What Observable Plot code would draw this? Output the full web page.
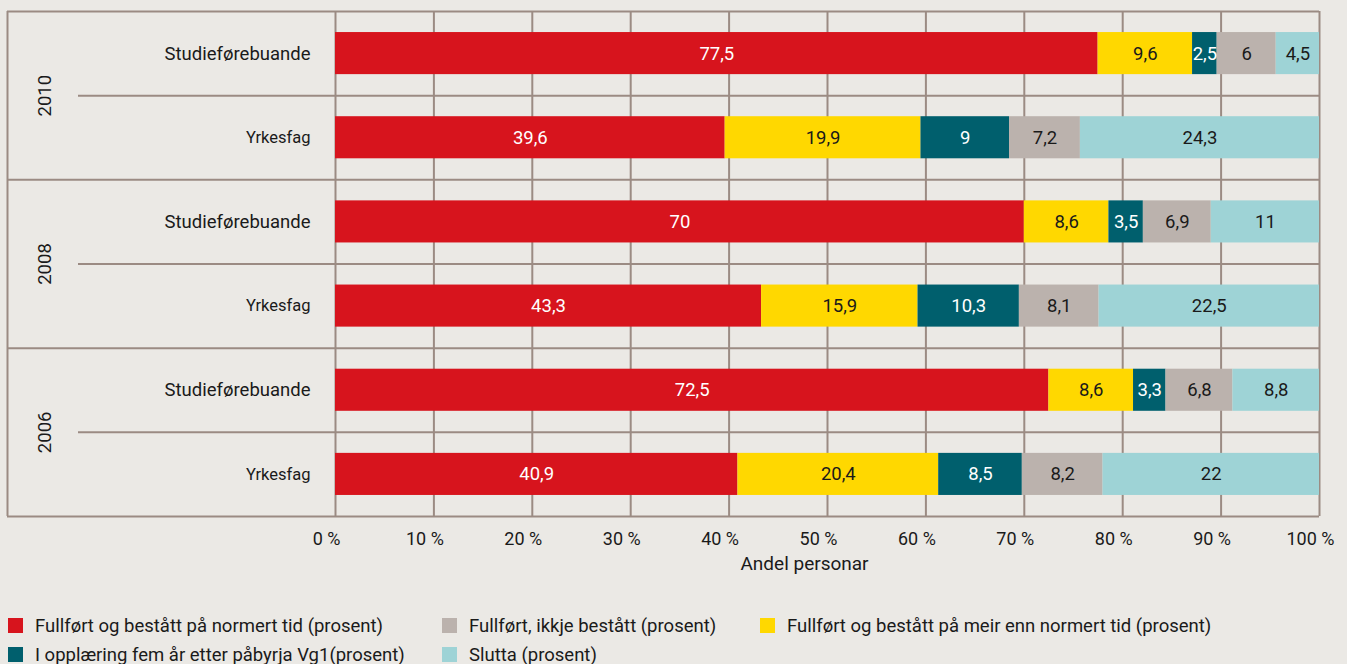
<!DOCTYPE html>
<html>
<head>
<meta charset="utf-8">
<script src="https://cdn.jsdelivr.net/npm/d3@7"></script>
<script src="https://cdn.jsdelivr.net/npm/@observablehq/plot@0.6"></script>
<style>
  html, body { margin: 0; padding: 0; background: #ebe9e5; font-family: Roboto, "Noto Sans", sans-serif; }
  #chart svg { display: block; }
  #legend { display: grid; grid-template-columns: 434px 318px auto; padding: 11px 0 0 8px; color: #1a1a1a; font-size: 18.5px; }
  .item { display: flex; align-items: center; height: 29px; white-space: nowrap; }
  .sw { width: 15px; height: 15px; margin-right: 12px; flex: none; }
</style>
</head>
<body>
<div id="chart"></div>
<div id="legend"></div>
<script>
// ---- data ----
const rowYears = ["2010", "2010", "2008", "2008", "2006", "2006"];
const rowPrograms = ["Studieførebuande", "Yrkesfag", "Studieførebuande", "Yrkesfag", "Studieførebuande", "Yrkesfag"];
const years = ["2010", "2008", "2006"];
const categories = [
  "Fullført og bestått på normert tid (prosent)",
  "Fullført og bestått på meir enn normert tid (prosent)",
  "I opplæring fem år etter påbyrja Vg1(prosent)",
  "Fullført, ikkje bestått (prosent)",
  "Slutta (prosent)"
];
const fullfortNormert = [77.5, 39.6, 70, 43.3, 72.5, 40.9];
const fullfortMeir    = [9.6, 19.9, 8.6, 15.9, 8.6, 20.4];
const iOpplaering     = [2.5, 9, 3.5, 10.3, 3.3, 8.5];
const ikkjeBestatt    = [6, 7.2, 6.9, 8.1, 6.8, 8.2];
const slutta          = [4.5, 24.3, 11, 22.5, 8.8, 22];
const xTicks = [0, 10, 20, 30, 40, 50, 60, 70, 80, 90, 100];
const legendOrder = [0, 3, 1, 2, 4];

// ---- styles ----
const colors = ["#d7141d", "#ffd800", "#005f6d", "#bbb2ad", "#9ed3d6"];
const textColors = ["#ffffff", "#1a1a1a", "#ffffff", "#1a1a1a", "#1a1a1a"];
const lineColor = "#9b8b83";

// ---- build table ----
const series = [fullfortNormert, fullfortMeir, iOpplaering, ikkjeBestatt, slutta];
const segments = [];
rowPrograms.forEach((prog, i) => {
  let acc = 0;
  series.forEach((vals, k) => {
    const v = vals[i];
    segments.push({row: i, category: categories[k], k, value: v, x1: acc, x2: Math.min(100, acc + v)});
    acc += v;
  });
});
const rows = rowPrograms.map((p, i) => ({row: i, program: p, year: rowYears[i]}));
const groups = years.map((y, g) => ({year: y, g}));
const fmt = v => String(v).replace(".", ",");

const chart = Plot.plot({
  width: 1347,
  height: 600,
  marginLeft: 335,
  marginRight: 28,
  marginTop: 11,
  marginBottom: 84,
  style: {fontFamily: "Roboto, 'Noto Sans', sans-serif", background: "transparent", color: "#1a1a1a"},
  x: {domain: [0, 100], axis: null},
  y: {domain: [0, 6], reverse: true, axis: null},
  color: {domain: categories, range: colors},
  marks: [
    Plot.ruleX(xTicks, {stroke: lineColor, strokeWidth: 2}),
    Plot.ruleX([0], {stroke: lineColor, strokeWidth: 2, dx: -328}),
    Plot.ruleY([0, 2, 4, 6], {stroke: lineColor, strokeWidth: 2, insetLeft: -328}),
    Plot.ruleY([1, 3, 5], {stroke: lineColor, strokeWidth: 2, insetLeft: -257}),
    Plot.rectX(segments, {x1: "x1", x2: "x2", y1: d => d.row + 0.25, y2: d => d.row + 0.75, fill: "category"}),
    Plot.text(segments, {
      x: d => (d.x1 + d.x2) / 2, y: d => d.row + 0.5, text: d => fmt(d.value),
      fill: d => textColors[d.k], fontSize: 18.5
    }),
    Plot.text(rows.filter(r => r.program === "Studieførebuande"), {
      y: d => d.row + 0.5, text: "program", frameAnchor: "left", textAnchor: "end", dx: -25, fontSize: 18.5, fill: "#1a1a1a"
    }),
    Plot.text(rows.filter(r => r.program === "Yrkesfag"), {
      y: d => d.row + 0.5, text: "program", frameAnchor: "left", textAnchor: "end", dx: -25, fontSize: 16.5, fill: "#1a1a1a"
    }),
    Plot.text(groups, {
      y: d => 2 * d.g + 1, text: "year", frameAnchor: "left", textAnchor: "middle", lineAnchor: "middle",
      rotate: -90, dx: -290, fontSize: 18.5, fill: "#1a1a1a"
    }),
    Plot.axisX(xTicks, {
      tickFormat: d => d + " %", tickSize: 0, tickPadding: 16, fontSize: 18, dx: -9, label: null
    }),
    Plot.text(["Andel personar"], {
      frameAnchor: "bottom", text: d => d, dy: 53, dx: -23, fontSize: 19, fill: "#1a1a1a"
    })
  ]
});
document.getElementById("chart").appendChild(chart);

// ---- legend ----
const legend = document.getElementById("legend");
legendOrder.forEach(k => {
  const item = document.createElement("div");
  item.className = "item";
  const sw = document.createElement("span");
  sw.className = "sw";
  sw.style.background = colors[k];
  const t = document.createElement("span");
  t.textContent = categories[k];
  item.appendChild(sw);
  item.appendChild(t);
  legend.appendChild(item);
});
</script>
</body>
</html>
